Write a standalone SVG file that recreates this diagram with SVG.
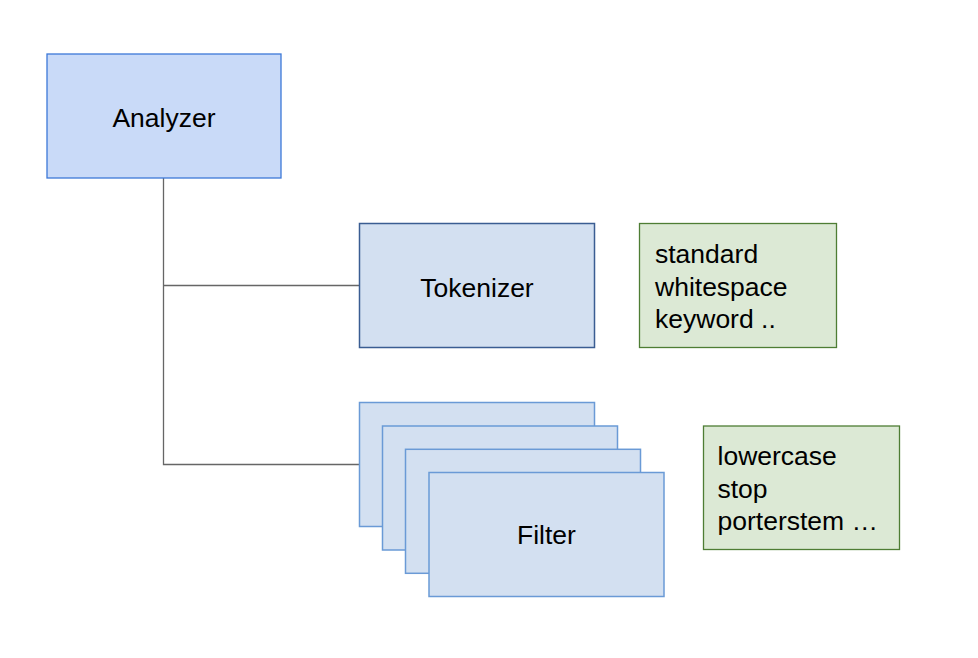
<svg xmlns="http://www.w3.org/2000/svg" width="978" height="658" viewBox="0 0 978 658">
<style>
  .t { font-family: "Liberation Sans", Arial, sans-serif; font-size: 26.5px; fill: #000; }
  .c { text-anchor: middle; }
  .an { fill: #c9daf8; stroke: #3c78d8; stroke-width: 1.3; }
  .tk { fill: #d3e0f1; stroke: #3a5d92; stroke-width: 1.5; }
  .fl { fill: #d3e0f1; stroke: #6a9ad6; stroke-width: 1.5; }
  .gr { fill: #dce9d5; stroke: #4e7d34; stroke-width: 1.3; }
  .ln { fill: none; stroke: #666; stroke-width: 1.3; }
</style>
<rect width="978" height="658" fill="#fff"/>
<g id="connectors">
  <path class="ln" d="M163.5,178 V464.5 H359.5"/>
  <path class="ln" d="M163.5,285.5 H359.5"/>
</g>
<g id="analyzer">
  <rect class="an" x="47" y="54" width="234" height="124"/>
  <text class="t c" x="164" y="127">Analyzer</text>
</g>
<g id="tokenizer">
  <rect class="tk" x="359.5" y="223.5" width="235" height="124"/>
  <text class="t c" x="477" y="296.5">Tokenizer</text>
</g>
<g id="filter">
  <rect class="fl" x="359.5" y="402.5" width="235" height="124"/>
  <rect class="fl" x="382.5" y="426" width="235" height="124"/>
  <rect class="fl" x="405.5" y="449.3" width="235" height="124"/>
  <rect class="fl" x="429" y="472.5" width="235" height="124"/>
  <text class="t c" x="546.5" y="543.5">Filter</text>
</g>
<g id="tokenizer-types">
  <rect class="gr" x="639.5" y="223.5" width="197" height="124"/>
  <text class="t" x="655" y="263.3">standard</text>
  <text class="t" x="655" y="295.7">whitespace</text>
  <text class="t" x="655" y="327.9">keyword ..</text>
</g>
<g id="filter-types">
  <rect class="gr" x="703.5" y="426" width="196" height="123.5"/>
  <text class="t" x="717.5" y="465">lowercase</text>
  <text class="t" x="717.5" y="497.5">stop</text>
  <text class="t" x="717.5" y="530">porterstem …</text>
</g>
</svg>
